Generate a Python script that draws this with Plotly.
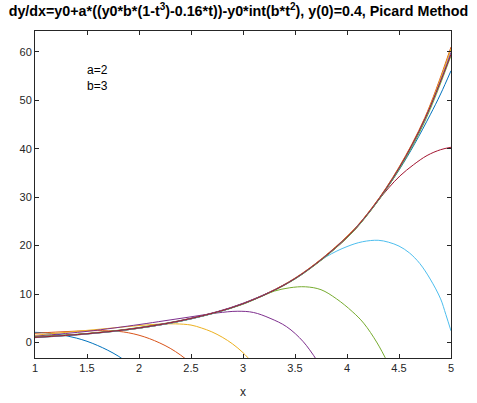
import plotly.graph_objects as go

# MATLAB default line colour order
colors = ["#0072BD", "#D95319", "#EDB120", "#7E2F8E", "#77AC30", "#4DBEEE", "#A2142F"]

# Picard iterates, one pair of arrays per iterate
x_it1 = [1, 1.1, 1.2, 1.3, 1.4, 1.5, 1.6, 1.7, 1.8, 1.9]
y_it1 = [2.1, 2.0, 1.75, 1.4, 0.9, 0.25, -0.6, -1.6, -2.8, -4.3]

x_it2 = [1, 1.2, 1.4, 1.6, 1.8, 1.9, 2.0, 2.1, 2.2, 2.3, 2.4, 2.5]
y_it2 = [1.9, 2.15, 2.35, 2.45, 2.3, 2.0, 1.5, 0.8, -0.1, -1.2, -2.6, -4.3]

x_it3 = [1, 1.25, 1.5, 1.75, 2, 2.2, 2.35, 2.5, 2.6, 2.7, 2.8, 2.9, 3.0, 3.1]
y_it3 = [1.5, 2.0, 2.5, 3.0, 3.5, 3.8, 3.85, 3.6, 3.0, 2.2, 1.1, -0.3, -2.1, -4.4]

x_it4 = [1, 1.5, 2, 2.25, 2.5, 2.75, 2.95, 3.1, 3.26, 3.42, 3.58, 3.72]
y_it4 = [1.3, 2.3, 3.7, 4.5, 5.3, 6.1, 6.45, 6.2, 5.0, 3.25, 0.15, -4.0]

x_it5 = [1, 1.5, 2, 2.5, 3, 3.15, 3.3, 3.45, 3.6, 3.75, 3.9, 4.05, 4.16, 4.29, 4.4]
y_it5 = [1.2, 1.85, 3.1, 5.0, 7.9, 9.3, 10.6, 11.3, 11.5, 10.9, 9.0, 6.4, 4.0, -0.1, -4.5]

x_it6 = [1, 1.5, 2, 2.5, 3, 3.5, 3.8, 4.0, 4.15, 4.3, 4.4, 4.5, 4.6, 4.7, 4.8, 4.9, 4.95, 5.0]
y_it6 = [1.05, 1.75, 2.95, 4.85, 7.95, 13.1, 17.7, 19.8, 20.8, 21.1, 20.7, 19.9, 18.5, 16.3, 13.1, 9.0, 5.8, 2.4]

x_it7 = [1, 1.5, 2, 2.5, 3, 3.5, 4, 4.2, 4.3, 4.4, 4.51, 4.64, 4.77, 4.9, 5]
y_it7 = [1.1, 1.8, 2.95, 4.9, 8.0, 13.2, 21.6, 26.5, 29.3, 31.9, 34.4, 36.7, 38.6, 39.8, 40.3]

x_it8 = [1, 1.5, 2, 2.5, 3, 3.5, 4, 4.25, 4.5, 4.65, 4.8, 4.9, 5]
y_it8 = [1.15, 1.8, 2.95, 4.9, 8.0, 13.2, 21.8, 27.9, 35.6, 41.0, 47.0, 51.3, 56.1]

# later iterates share one grid
x_late = [1, 1.5, 2, 2.5, 3, 3.5, 4, 4.25, 4.5, 4.75, 5]
y_it9 = [1.1, 1.8, 3.0, 4.95, 8.05, 13.3, 21.9, 28.1, 36.2, 46.5, 61.0]
y_it10 = [1.0, 1.75, 2.95, 4.9, 8.0, 13.25, 21.85, 28.05, 36.1, 46.3, 60.6]
y_it11 = [1.05, 1.8, 3.05, 5.0, 8.1, 13.2, 21.7, 27.9, 35.9, 46.0, 59.9]
y_it12 = [1.1, 1.85, 3.0, 4.9, 7.95, 13.1, 21.6, 27.8, 35.7, 45.7, 59.2]
y_it13 = [1.0, 1.75, 2.95, 4.9, 8.0, 13.2, 21.75, 27.95, 35.95, 46.1, 59.6]
y_it14 = [1.05, 1.8, 3.0, 4.95, 8.0, 13.2, 21.8, 28.0, 36.0, 46.2, 59.5]

iterates = [
    (x_it1, y_it1), (x_it2, y_it2), (x_it3, y_it3), (x_it4, y_it4),
    (x_it5, y_it5), (x_it6, y_it6), (x_it7, y_it7), (x_it8, y_it8),
    (x_late, y_it9), (x_late, y_it10), (x_late, y_it11), (x_late, y_it12),
    (x_late, y_it13), (x_late, y_it14),
]

x_ticks = [1, 1.5, 2, 2.5, 3, 3.5, 4, 4.5, 5]
x_tick_labels = ["1", "1.5", "2", "2.5", "3", "3.5", "4", "4.5", "5"]
y_ticks = [0, 10, 20, 30, 40, 50, 60]

fig = go.Figure()
for k, (xs, ys) in enumerate(iterates):
    fig.add_trace(go.Scatter(
        x=xs, y=ys, mode="lines",
        line=dict(color=colors[k % len(colors)], width=1, shape="spline"),
        showlegend=False, hoverinfo="skip",
    ))

fig.add_annotation(
    x=1.48, y=54.6, xref="x", yref="y", xanchor="left", yanchor="middle",
    text="a=2<br>b=3", showarrow=False, align="left",
    font=dict(family="Liberation Sans, Arial", size=12, color="#000000"),
)

axis_common = dict(
    showline=True, linecolor="#262626", linewidth=1, mirror="ticks",
    ticks="inside", ticklen=4, tickcolor="#262626", tickwidth=1,
    showgrid=False, zeroline=False, automargin=False,
    tickfont=dict(family="Liberation Sans, Arial", size=11, color="#262626"),
)

fig.update_layout(
    width=477, height=403,
    margin=dict(l=35, r=26, t=31, b=45),
    paper_bgcolor="#ffffff", plot_bgcolor="#ffffff",
    title=dict(
        text="dy/dx=y0+a*((y0*b*(1-t<sup>3</sup>)-0.16*t))-y0*int(b*t<sup>2</sup>), y(0)=0.4, Picard Method",
        x=0.5, xanchor="center", y=0.985, yanchor="top",
        font=dict(family="Liberation Sans, Arial", size=14.3, color="#000000", weight="bold"),
    ),
    xaxis=dict(range=[1, 5], tickvals=x_ticks, ticktext=x_tick_labels,
               title=dict(text="x", standoff=14,
                          font=dict(family="Liberation Sans, Arial", size=12, color="#262626")),
               **axis_common),
    yaxis=dict(range=[-3.2, 64.3], tickvals=y_ticks, **axis_common),
)

fig.write_html("out.html")
